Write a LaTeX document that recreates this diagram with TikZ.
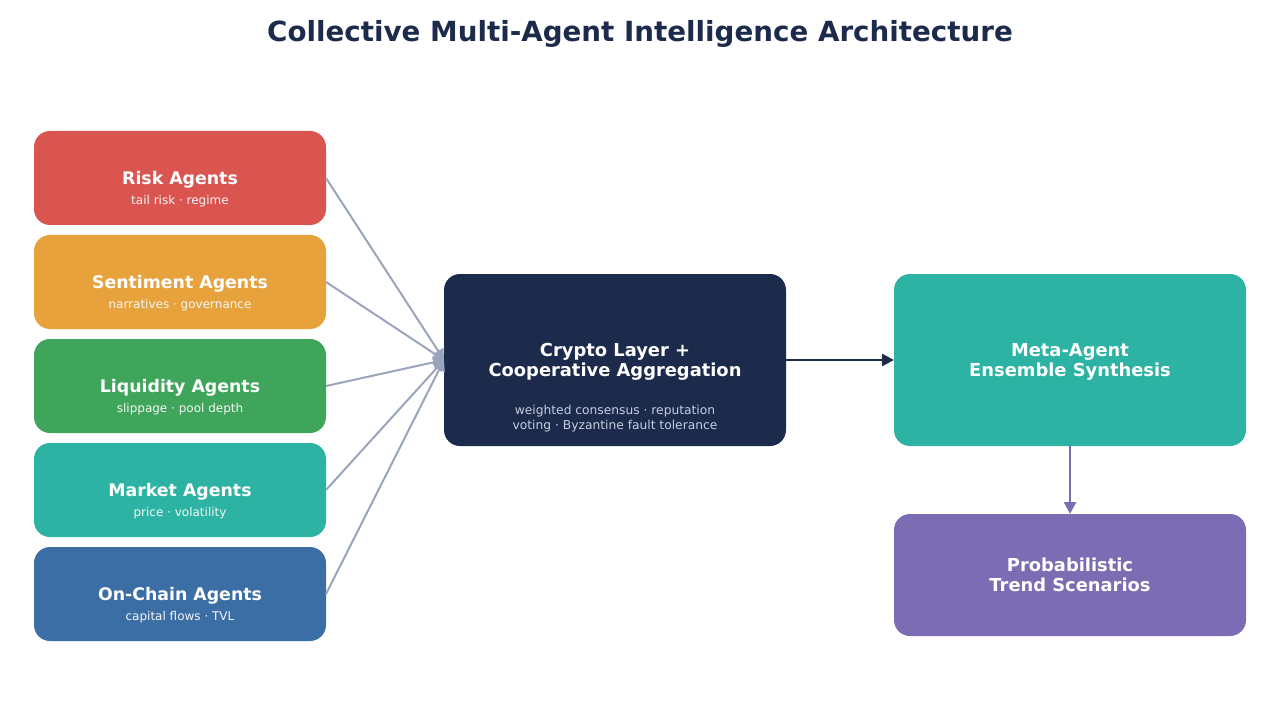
\documentclass[tikz,border=0pt]{standalone}
\usepackage{fontspec}
\setmainfont{DejaVu Sans}
\usetikzlibrary{arrows.meta,positioning}
\definecolor{titlenavy}{HTML}{1C2A4B}
\definecolor{riskred}{HTML}{DB5550}
\definecolor{sentorange}{HTML}{E8A23B}
\definecolor{liqgreen}{HTML}{3EA55B}
\definecolor{mktteal}{HTML}{2CB3A4}
\definecolor{chainblue}{HTML}{3B6EA5}
\definecolor{hubnavy}{HTML}{1C2A4B}
\definecolor{metateal}{HTML}{2CB3A4}
\definecolor{scenpurple}{HTML}{7B6CB3}
\definecolor{linkgrey}{HTML}{9AA5BB}
\definecolor{hubsub}{HTML}{C5CDE0}

\begin{document}
\begin{tikzpicture}[x=0.75pt, y=-0.75pt,
  agent/.style={rounded corners=12pt, minimum width=219pt, minimum height=70.5pt, inner sep=0pt, outer sep=0pt, text depth=0pt, text=white, font=\fontsize{13}{15.6}\selectfont\bfseries},
  agentsub/.style={inner sep=0pt, text=white!96!black, font=\fontsize{9}{10.5}\selectfont},
  stage/.style={rounded corners=12pt, minimum width=264pt, minimum height=129pt, inner sep=0pt, outer sep=0pt, text depth=0pt, align=center, text=white, font=\fontsize{13.4}{15}\selectfont\bfseries},
  feed/.style={-{Triangle[length=8pt, width=9pt]}, line width=1.5pt, linkgrey},
  flow/.style={-{Triangle[length=9pt, width=9pt]}, line width=2pt}
]
  \useasboundingbox (0,0) rectangle (1280,720);

  \node[font=\fontsize{20.8}{24}\selectfont\bfseries, text=titlenavy] (title) at (640,34) {Collective Multi-Agent Intelligence Architecture};

  % agent column
  \node[agent, fill=riskred] (risk) at (180,178) {Risk Agents};
  \node[agent, fill=sentorange, below=7.5pt of risk] (sentiment) {Sentiment Agents};
  \node[agent, fill=liqgreen, below=7.5pt of sentiment] (liquidity) {Liquidity Agents};
  \node[agent, fill=mktteal, below=7.5pt of liquidity] (market) {Market Agents};
  \node[agent, fill=chainblue, below=7.5pt of market] (onchain) {On-Chain Agents};

  \path (risk.center) ++(0,23) node[agentsub] (risk-sub) {tail risk · regime};
  \path (sentiment.center) ++(0,23) node[agentsub] (sentiment-sub) {narratives · governance};
  \path (liquidity.center) ++(0,23) node[agentsub] (liquidity-sub) {slippage · pool depth};
  \path (market.center) ++(0,23) node[agentsub] (market-sub) {price · volatility};
  \path (onchain.center) ++(0,23) node[agentsub] (onchain-sub) {capital flows · TVL};

  % aggregation and synthesis
  \node[stage, minimum width=256.5pt, fill=hubnavy] (crypto) at (615,360) {Crypto Layer +\\Cooperative Aggregation};
  \path (crypto.center) ++(0,59) node[agentsub, text=hubsub, align=center, font=\fontsize{9.2}{11.25}\selectfont] (crypto-sub) {weighted consensus · reputation\\voting · Byzantine fault tolerance};
  \node[stage, fill=metateal] (meta) at (1070,360) {Meta-Agent\\Ensemble Synthesis};
  \node[stage, minimum height=91.5pt, fill=scenpurple] (prob) at (1070,575) {Probabilistic\\Trend Scenarios};

  \draw[feed] (risk.east) -- (crypto.west);
  \draw[feed] (sentiment.east) -- (crypto.west);
  \draw[feed] (liquidity.east) -- (crypto.west);
  \draw[feed] (market.east) -- (crypto.west);
  \draw[feed] (onchain.east) -- (crypto.west);

  \draw[flow, hubnavy] (crypto) -- (meta);
  \draw[flow, scenpurple] (meta) -- (prob);
\end{tikzpicture}
\end{document}
